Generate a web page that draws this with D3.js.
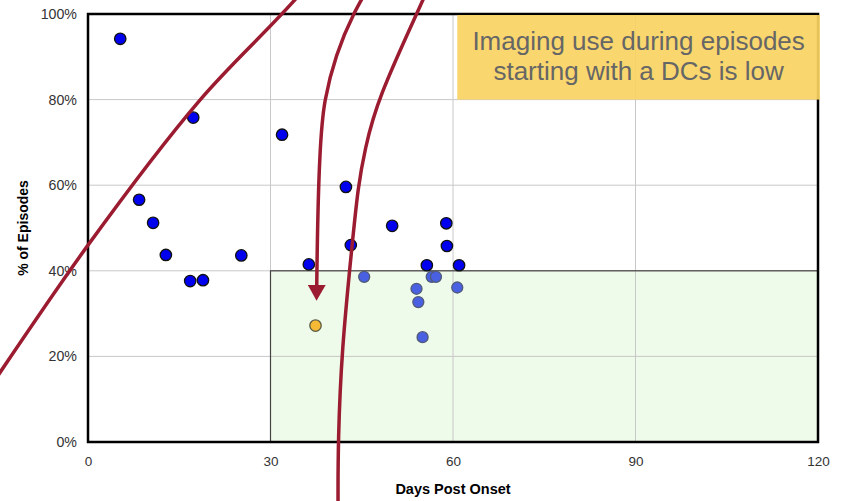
<!DOCTYPE html>
<html>
<head>
<meta charset="utf-8">
<script src="https://cdn.jsdelivr.net/npm/d3@7"></script>
<style>
  body { margin: 0; background: #fff; }
  text { font-family: "Liberation Sans", Arial, sans-serif; }
</style>
</head>
<body>
<div id="chart"></div>
<script>
// data: days post onset, % of episodes
const darkDays = [5.3, 17.3, 31.9, 8.4, 10.7, 12.8, 16.8, 18.9, 25.2, 36.3, 42.4, 43.2, 50.0, 58.9, 59.0, 55.7, 61.0];
const darkPct  = [94.2, 75.8, 71.8, 56.6, 51.2, 43.7, 37.6, 37.8, 43.6, 41.5, 59.6, 46.0, 50.5, 51.1, 45.8, 41.3, 41.3];

const lightDays = [45.4, 56.5, 57.2, 54.0, 54.3, 60.7, 55.0];
const lightPct  = [38.6, 38.6, 38.6, 35.8, 32.7, 36.1, 24.5];

const highlightDays = [37.4];
const highlightPct  = [27.2];

const xTicks = [0, 30, 60, 90, 120];
const yTicks = [0, 20, 40, 60, 80, 100];

// annotation strokes, in data units
const arrow1 = [[-16, 13], [0, 46.0], [18.4, 79.9], [34.0, 103.3], [36, 106.5]];
const arrow2 = [[45.6, 105], [43.7, 100], [39.0, 79.9], [38.1, 65.9], [37.6, 36.5]];
const arrow3 = [[56.5, 108], [55.1, 103.3], [47.5, 79.9], [45.5, 68.2], [44.4, 59.8], [43.4, 45.8], [41.7, 21.5], [41.1, 0], [41.1, -14]];

const svgWidth = 842;
const svgHeight = 501;
const margins = { top: 14, right: 24, bottom: 59, left: 88 };
const chartWidth = svgWidth - margins.left - margins.right;
const chartHeight = svgHeight - margins.top - margins.bottom;

const svg = d3.select("#chart").append("svg")
    .attr("width", svgWidth)
    .attr("height", svgHeight);

const defs = svg.append("defs");
defs.append("marker")
    .attr("id", "head")
    .attr("markerUnits", "userSpaceOnUse")
    .attr("viewBox", "0 0 16 18")
    .attr("refX", 1)
    .attr("refY", 9)
    .attr("markerWidth", 16)
    .attr("markerHeight", 18)
    .attr("orient", "auto")
    .append("path")
    .attr("d", "M0,0 L16,9 L0,18 Z")
    .attr("fill", "#9b1b30");

const chartGroup = svg.append("g")
    .attr("transform", `translate(${margins.left}, ${margins.top})`);

const x = d3.scaleLinear().domain([0, 120]).range([0, chartWidth]);
const y = d3.scaleLinear().domain([0, 100]).range([chartHeight, 0]);

// green target region: after 30 days, under 40%
chartGroup.append("rect")
    .attr("x", x(30))
    .attr("y", y(40))
    .attr("width", x(120) - x(30))
    .attr("height", y(0) - y(40))
    .attr("fill", "#effbea");

// grid
chartGroup.append("g")
    .selectAll("line")
    .data(xTicks.slice(1, -1))
    .enter().append("line")
    .attr("x1", d => x(d)).attr("x2", d => x(d))
    .attr("y1", 0).attr("y2", chartHeight)
    .attr("stroke", "#c8c8c8");

chartGroup.append("g")
    .selectAll("line")
    .data(yTicks.slice(1, -1))
    .enter().append("line")
    .attr("x1", 0).attr("x2", chartWidth)
    .attr("y1", d => y(d)).attr("y2", d => y(d))
    .attr("stroke", "#c8c8c8");

chartGroup.append("rect")
    .attr("x", x(30))
    .attr("y", y(40))
    .attr("width", x(120) - x(30))
    .attr("height", y(0) - y(40))
    .attr("fill", "none")
    .attr("stroke", "#444")
    .attr("stroke-width", 1.2);

// frame
chartGroup.append("rect")
    .attr("width", chartWidth)
    .attr("height", chartHeight)
    .attr("fill", "none")
    .attr("stroke", "#000")
    .attr("stroke-width", 2.5);

// axes, no domain/ticks, labels only
const bottomAxis = d3.axisBottom(x).tickValues(xTicks).tickSize(0).tickPadding(14);
const leftAxis = d3.axisLeft(y).tickValues(yTicks).tickSize(0).tickPadding(11)
    .tickFormat(d => d + "%");

chartGroup.append("g")
    .attr("transform", `translate(0, ${chartHeight})`)
    .call(bottomAxis)
    .call(g => g.select(".domain").remove())
    .selectAll("text")
    .attr("font-size", 13.5)
    .attr("fill", "#333")
    .style("font-family", "'Liberation Sans', Arial, sans-serif");

chartGroup.append("g")
    .call(leftAxis)
    .call(g => g.select(".domain").remove())
    .selectAll("text")
    .attr("font-size", 14.2)
    .attr("fill", "#333")
    .style("font-family", "'Liberation Sans', Arial, sans-serif");

chartGroup.append("text")
    .attr("transform", "rotate(-90)")
    .attr("x", -y(50))
    .attr("y", -60)
    .attr("text-anchor", "middle")
    .attr("font-size", 14)
    .attr("font-weight", "bold")
    .text("% of Episodes");

chartGroup.append("text")
    .attr("x", x(60))
    .attr("y", chartHeight + 52)
    .attr("text-anchor", "middle")
    .attr("font-size", 14.5)
    .attr("font-weight", "bold")
    .text("Days Post Onset");

// points
const dark = darkDays.map((d, i) => ({ day: d, pct: darkPct[i] }));
const light = lightDays.map((d, i) => ({ day: d, pct: lightPct[i] }));
const highlight = highlightDays.map((d, i) => ({ day: d, pct: highlightPct[i] }));

chartGroup.selectAll(".light")
    .data(light)
    .enter().append("circle")
    .attr("class", "light")
    .attr("cx", d => x(d.day))
    .attr("cy", d => y(d.pct))
    .attr("r", 5.5)
    .attr("fill", "#4a60e2")
    .attr("stroke", "#505a78")
    .attr("stroke-width", 1.3);

chartGroup.selectAll(".dark")
    .data(dark)
    .enter().append("circle")
    .attr("class", "dark")
    .attr("cx", d => x(d.day))
    .attr("cy", d => y(d.pct))
    .attr("r", 5.7)
    .attr("fill", "#0000ee")
    .attr("stroke", "#111")
    .attr("stroke-width", 1.3);

chartGroup.selectAll(".hl")
    .data(highlight)
    .enter().append("circle")
    .attr("class", "hl")
    .attr("cx", d => x(d.day))
    .attr("cy", d => y(d.pct))
    .attr("r", 5.7)
    .attr("fill", "#f6b935")
    .attr("stroke", "#5a5a40")
    .attr("stroke-width", 1.3);

// callout box
const box = chartGroup.append("g");
box.append("rect")
    .attr("x", x(60.7))
    .attr("y", 1)
    .attr("width", svgWidth - margins.left - x(60.7) - 22)
    .attr("height", y(80) - 1)
    .attr("fill", "#f9d262")
    .attr("opacity", 0.92);

const boxCenter = (x(60.7) + svgWidth - margins.left - 22) / 2;
box.append("text")
    .attr("x", boxCenter)
    .attr("y", 36)
    .attr("text-anchor", "middle")
    .attr("font-size", 26)
    .attr("fill", "#666")
    .text("Imaging use during episodes");
box.append("text")
    .attr("x", boxCenter)
    .attr("y", 66)
    .attr("text-anchor", "middle")
    .attr("font-size", 26)
    .attr("fill", "#666")
    .text("starting with a DCs is low");

// red annotation strokes
const lineX = d3.line()
    .x(d => x(d[0]))
    .y(d => y(d[1]))
    .curve(d3.curveMonotoneX);
const lineY = d3.line()
    .x(d => x(d[0]))
    .y(d => y(d[1]))
    .curve(d3.curveMonotoneY);
const lineBasis = d3.line()
    .x(d => x(d[0]))
    .y(d => y(d[1]))
    .curve(d3.curveBasis);

[[arrow1, lineX], [arrow2, lineY], [arrow3, lineBasis]].forEach(([pts, gen], i) => {
    const p = chartGroup.append("path")
        .datum(pts)
        .attr("d", gen)
        .attr("fill", "none")
        .attr("stroke", "#9b1b30")
        .attr("stroke-width", 3.5);
    if (i === 1) p.attr("marker-end", "url(#head)");
});
</script>
</body>
</html>
